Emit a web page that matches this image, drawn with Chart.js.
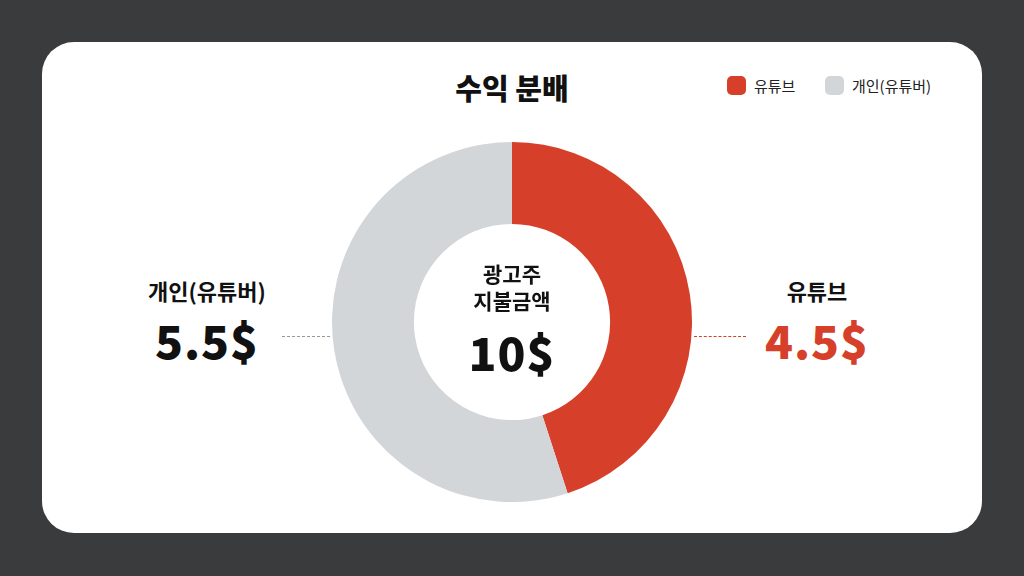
<!DOCTYPE html>
<html>
<head>
<meta charset="utf-8">
<script src="https://cdn.jsdelivr.net/npm/chart.js"></script>
<style>
  html, body { margin: 0; padding: 0; }
  body {
    width: 1024px; height: 576px; background: #3a3b3c; position: relative;
    font-family: "Noto Sans CJK KR", "Noto Sans", sans-serif; overflow: hidden;
  }
  .card { position: absolute; left: 42px; top: 42px; width: 940px; height: 491px; background: #fff; border-radius: 32px; }
  .abs { position: absolute; white-space: nowrap; transform: translateX(-50%); }
  #title { left: 512px; top: 66px; font-size: 29px; font-weight: 900; color: #111; }
  .legend { position: absolute; top: 75px; font-size: 15px; color: #222; display: flex; align-items: center; }
  .legend i { display: inline-block; width: 19px; height: 19px; border-radius: 5px; margin-right: 8px; }
  .lbl { font-size: 22px; font-weight: 700; color: #111; }
  .val { font-size: 46px; font-weight: 900; color: #111; letter-spacing: 1px; }
  .dash { position: absolute; top: 336px; height: 0; border-top: 1px dashed #999; }
  #chart { position: absolute; left: 332px; top: 142px; }
</style>
</head>
<body>
<div class="card"></div>
<canvas id="chart" width="360" height="360"></canvas>
<div id="title" class="abs">수익 분배</div>
<div class="legend" style="left:727px"><i style="background:#d63f29"></i>유튜브</div>
<div class="legend" style="left:825px"><i style="background:#d3d6d9"></i>개인(유튜버)</div>

<div class="abs lbl" style="left:207px;top:274px">개인(유튜버)</div>
<div class="abs val" style="left:207px;top:306px">5.5$</div>
<div class="dash" style="left:282px;width:48px"></div>

<div class="abs lbl" style="left:817px;top:274px">유튜브</div>
<div class="abs val" style="left:817px;top:306px;color:#d63f29">4.5$</div>
<div class="dash" style="left:694px;width:52px;border-color:#d63f29"></div>

<div class="abs lbl" style="left:512px;top:258px;font-size:21px">광고주</div>
<div class="abs lbl" style="left:512px;top:285px;font-size:21px">지불금액</div>
<div class="abs val" style="left:512px;top:318px">10$</div>

<script>
const labels = ["유튜브", "개인(유튜버)"];
const values = [4.5, 5.5];
const colors = ["#d63f29", "#d3d6d9"];

new Chart(document.getElementById("chart"), {
  type: "doughnut",
  data: { labels: labels, datasets: [{ data: values, backgroundColor: colors, borderWidth: 0 }] },
  options: {
    responsive: false,
    animation: false,
    cutout: "54.5%",
    plugins: { legend: { display: false }, tooltip: { enabled: false } }
  }
});
</script>
</body>
</html>
